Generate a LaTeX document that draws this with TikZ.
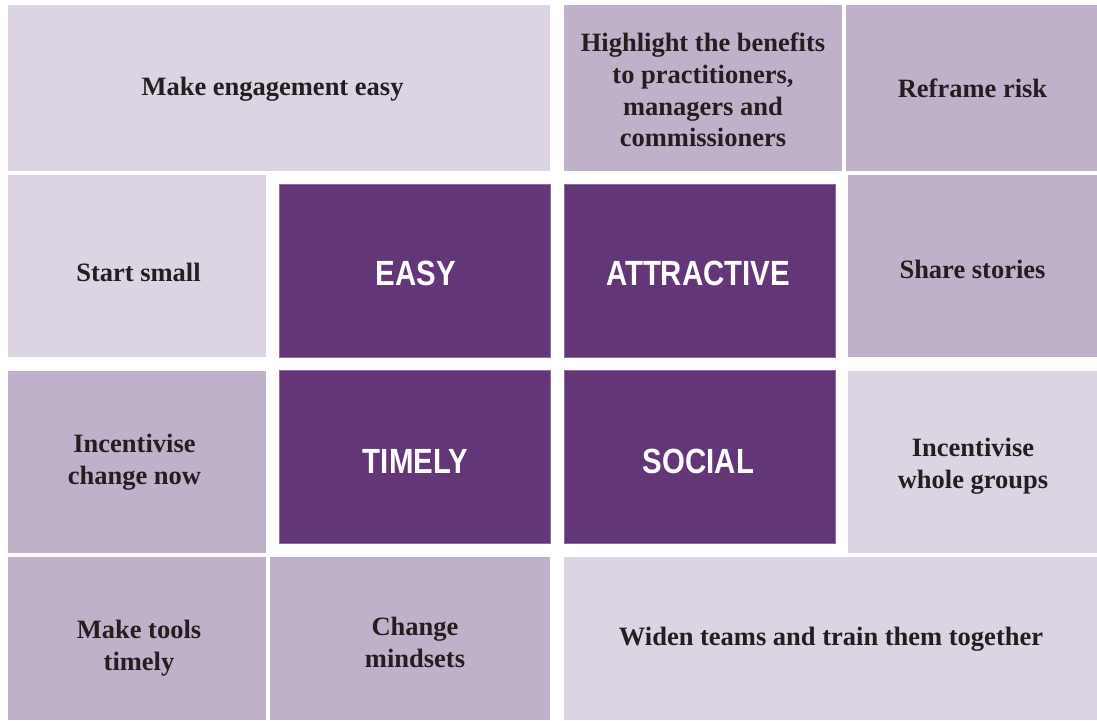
\documentclass[tikz,border=0pt]{standalone}
\usepackage{graphicx}
\usepackage{fontspec}
\setmainfont{Liberation Serif}
\newfontfamily\headfont{Liberation Sans}
\definecolor{lightp}{HTML}{DCD4E3}
\definecolor{midp}{HTML}{C0B1CA}
\definecolor{darkp}{HTML}{633677}
\definecolor{darkedge}{HTML}{8E6CA0}
\definecolor{txt}{HTML}{231F20}
\newcommand{\squeeze}[1]{\scalebox{0.84}[1]{#1}}
\begin{document}
\begin{tikzpicture}[x=1pt,y=-1pt,
  cell/.style={fill=#1, inner sep=0pt, outer sep=0pt, anchor=north west},
  core/.style={fill=darkp, draw=darkedge, line width=0.7pt, inner sep=0pt, outer sep=0pt, anchor=north west},
  lbl/.style={font=\bfseries\fontsize{26.5}{31.8}\selectfont, text=txt, align=center, inner sep=0pt},
  big/.style={font=\headfont\bfseries\fontsize{35}{40}\selectfont, text=white, inner sep=0pt, anchor=base}]
\useasboundingbox (0,0) rectangle (1097,720);
\fill[white] (0,0) rectangle (1097,720);
% row 1
\node[cell=lightp, minimum width=542pt, minimum height=165.7pt] (a) at (8,5) {};
\node[cell=midp, minimum width=278pt, minimum height=165.7pt] (b) at (564,5) {};
\node[cell=midp, minimum width=251pt, minimum height=165.7pt] (c) at (846,5) {};
% row 2
\node[cell=lightp, minimum width=258pt, minimum height=182pt] (d) at (8,175) {};
\node[core, minimum width=271pt, minimum height=173pt] (e) at (279,184) {};
\node[core, minimum width=271pt, minimum height=173pt] (f) at (564,184) {};
\node[cell=midp, minimum width=249pt, minimum height=182pt] (g) at (848,175) {};
% row 3
\node[cell=midp, minimum width=258pt, minimum height=181.7pt] (h) at (8,371) {};
\node[core, minimum width=271pt, minimum height=173pt] (i) at (279,370) {};
\node[core, minimum width=271pt, minimum height=173pt] (j) at (564,370) {};
\node[cell=lightp, minimum width=249pt, minimum height=181.7pt] (k) at (848,371) {};
% row 4
\node[cell=midp, minimum width=258pt, minimum height=163pt] (l) at (8,557) {};
\node[cell=midp, minimum width=280pt, minimum height=163pt] (m) at (270,557) {};
\node[cell=lightp, minimum width=533pt, minimum height=163pt] (n) at (564,557) {};
% texts
\node[lbl, anchor=base] (ta) at (272.5,95) {Make engagement easy};
\node[lbl] (tb) at (703,90) {Highlight the benefits\\to practitioners,\\managers and\\commissioners};
\node[lbl, anchor=base] (tc) at (972.5,97.7) {Reframe risk};
\node[lbl, anchor=base] (td) at (138.5,281) {Start small};
\node[big] (te) at (416,285.7) {\squeeze{EASY}};
\node[big] (tf) at (698,285.7) {\squeeze{ATTRACTIVE}};
\node[lbl, anchor=base] (tg) at (972.5,278) {Share stories};
\node[lbl] (th) at (134.5,462) {Incentivise\\change now};
\node[big] (ti) at (415.5,473.5) {\squeeze{TIMELY}};
\node[big] (tj) at (698.5,473.5) {\squeeze{SOCIAL}};
\node[lbl] (tk) at (973,466) {Incentivise\\whole groups};
\node[lbl] (tl) at (139,648) {Make tools\\timely};
\node[lbl] (tm) at (415,642.5) {Change\\mindsets};
\node[lbl, anchor=base] (tn) at (831,645) {Widen teams and train them together};
\end{tikzpicture}
\end{document}
